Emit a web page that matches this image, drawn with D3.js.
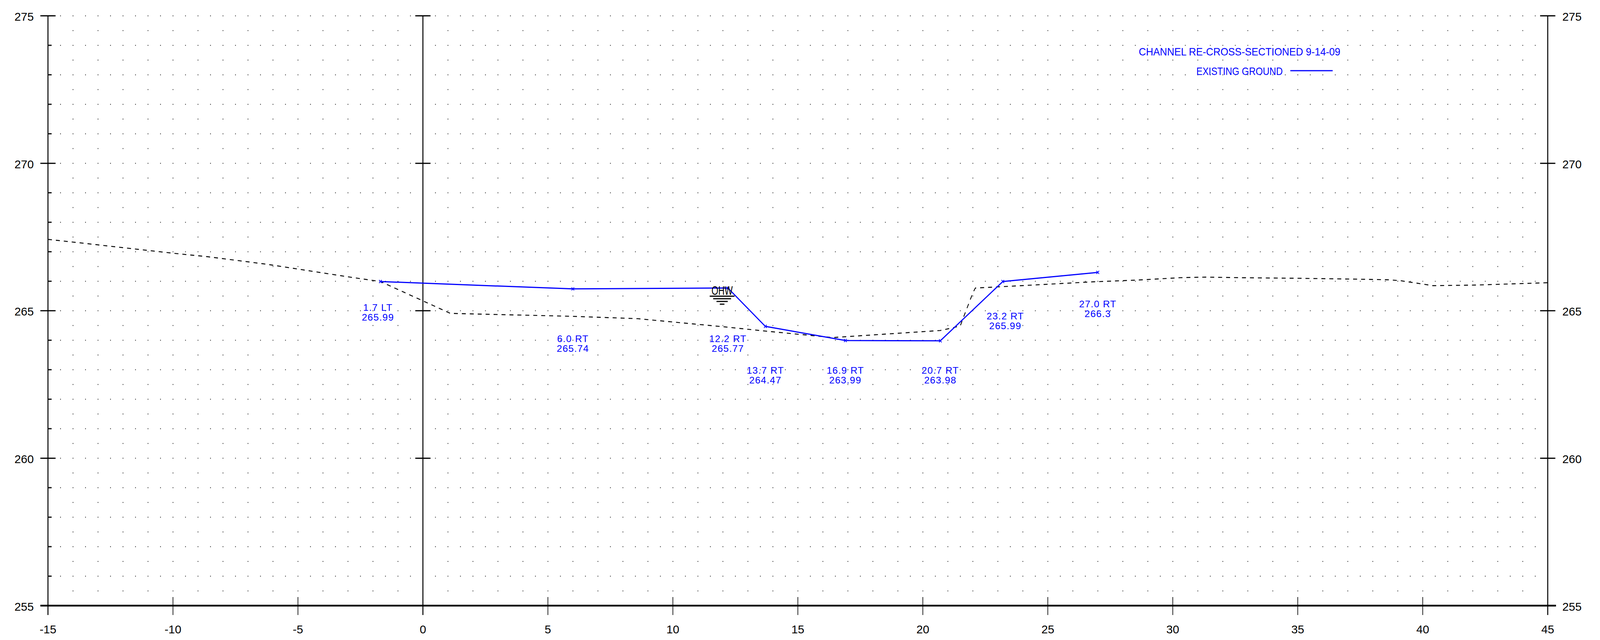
<!DOCTYPE html>
<html lang="en">
  <head>
    <meta charset="UTF-8" />
    <title>Channel Cross Section</title>
    <script src="https://cdn.jsdelivr.net/npm/d3@7"></script>
    <style>
      html, body { margin: 0; padding: 0; background: #fff; overflow: hidden; }
      svg { display: block; background: #fff; width: 100vw; height: 100vh; }
      text { font-family: "Liberation Sans", Arial, sans-serif; }
    </style>
  </head>
  <body>
    <script>
      // re-cross-section points (offset from CL, negative = LT)
      const stations = [-1.7, 6.0, 12.2, 13.7, 16.9, 20.7, 23.2, 27.0];
      const elevations = [265.99, 265.74, 265.77, 264.47, 263.99, 263.98, 265.99, 266.3];
      // where each station/elevation note sits (chart units)
      const labelStation = [-1.8, 6.0, 12.2, 13.7, 16.9, 20.7, 23.3, 27.0];
      const labelElev = [265.0, 263.94, 263.94, 262.86, 262.86, 262.86, 264.7, 265.11];

      // existing ground (dashed)
      const groundStation = [-15, -13.7, -11.8, -10, -8.6, -7.2, -6.2, -4.9, -3, -1.7, 1.1, 6.0, 8.6, 12.1,
        13.7, 16.4, 20.7, 21.2, 21.5, 21.6, 22.0, 22.1, 23.5, 26.8, 28.6, 30.3, 31.3, 32.7, 35.0, 37.4,
        38.6, 39.1, 39.8, 40.4, 42.1, 45];
      const groundElev = [267.42, 267.3, 267.12, 266.95, 266.83, 266.68, 266.57, 266.4, 266.15, 265.99,
        264.91, 264.81, 264.73, 264.45, 264.31, 264.09, 264.33, 264.42, 264.49, 264.72, 265.6, 265.77,
        265.83, 265.98, 266.04, 266.12, 266.14, 266.12, 266.1, 266.07, 266.05, 266.02, 265.93, 265.85,
        265.87, 265.95];

      const ohw = { station: 11.97, elev: 265.54 };
      const xTicks = d3.range(-15, 46, 5);
      const yTicks = [255, 260, 265, 270, 275];
      const legendTitle = "CHANNEL RE-CROSS-SECTIONED 9-14-09";
      const legendLine = "EXISTING GROUND";

      const width = 4836;
      const height = 1639;
      const blue = "#0000ff";

      // the drawing is stretched to the window; text is un-stretched so it keeps its shape
      const kx = window.innerWidth / width;
      const ky = window.innerHeight / height;
      const squash = kx / ky;
      const at = (px, py) => `translate(${px},${py}) scale(1,${squash})`;

      const x = d3.scaleLinear().domain([-15, 45]).range([145, 4678]);
      const y = d3.scaleLinear().domain([255, 275]).range([1551, 40.5]);

      const svg = d3.select("body").append("svg")
        .attr("viewBox", `0 0 ${width} ${height}`)
        .attr("preserveAspectRatio", "none");

      // dot grid
      const dots = [];
      d3.range(255.5, 275.01, 0.5).forEach(e => {
        const whole = Math.abs(e - Math.round(e)) < 1e-6;
        const step = whole ? 0.5 : 1;
        const start = whole ? -14.5 : -14;
        d3.range(start, 44.6, step).forEach(s => {
          if (Math.abs(s) > 1e-6) dots.push([s, e]);
        });
      });
      svg.append("g").selectAll("rect").data(dots).join("rect")
        .attr("x", d => x(d[0]) - 1)
        .attr("y", d => y(d[1]) - 1)
        .attr("width", 2.2)
        .attr("height", 2.2)
        .attr("fill", "#222");

      const axes = svg.append("g").attr("stroke", "#000").attr("fill", "none");

      // vertical lines: left, centerline, right
      [-15, 0, 45].forEach(s => {
        axes.append("line")
          .attr("x1", x(s)).attr("x2", x(s))
          .attr("y1", y(275)).attr("y2", y(255) + 24)
          .attr("stroke-width", 3);
      });

      // major ticks on the three verticals
      [-15, 0, 45].forEach(s => {
        yTicks.filter(v => v > 255).forEach(v => {
          axes.append("line")
            .attr("x1", x(s) - 23).attr("x2", x(s) + 23)
            .attr("y1", y(v)).attr("y2", y(v))
            .attr("stroke-width", 3);
        });
      });

      // minor ticks on the left axis
      d3.range(256, 275, 1).filter(v => v % 5 !== 0).forEach(v => {
        axes.append("line")
          .attr("x1", x(-15)).attr("x2", x(-15) + 11)
          .attr("y1", y(v)).attr("y2", y(v))
          .attr("stroke-width", 3);
      });

      // bottom base line + ticks
      axes.append("line")
        .attr("x1", x(-15) - 23).attr("x2", x(45) + 25)
        .attr("y1", y(255)).attr("y2", y(255))
        .attr("stroke-width", 4.5);
      xTicks.filter(s => s !== -15 && s !== 0 && s !== 45).forEach(s => {
        axes.append("line")
          .attr("x1", x(s)).attr("x2", x(s))
          .attr("y1", y(255) - 22).attr("y2", y(255) + 24)
          .attr("stroke-width", 2);
      });

      // axis labels
      const labels = svg.append("g").attr("fill", "#000").attr("font-size", 35);
      yTicks.forEach(v => {
        labels.append("text")
          .attr("transform", at(x(-15) - 43, y(v) + 12.5))
          .attr("text-anchor", "end").text(v);
        labels.append("text")
          .attr("transform", at(x(45) + 44, y(v) + 12.5))
          .attr("text-anchor", "start").text(v);
      });
      xTicks.forEach(s => {
        labels.append("text")
          .attr("transform", at(x(s), 1622))
          .attr("text-anchor", "middle").text(s);
      });

      // existing ground, dashed
      const gLine = d3.line().x(d => x(d[0])).y(d => y(d[1]));
      svg.append("path")
        .datum(groundStation.map((s, i) => [s, groundElev[i]]))
        .attr("d", gLine)
        .attr("fill", "none")
        .attr("stroke", "#000")
        .attr("stroke-width", 2.4)
        .attr("stroke-dasharray", "12,12");

      // re-cross-section, blue
      const pts = stations.map((s, i) => [s, elevations[i]]);
      svg.append("path")
        .datum(pts)
        .attr("d", gLine)
        .attr("fill", "none")
        .attr("stroke", blue)
        .attr("stroke-width", 3);

      svg.append("g").selectAll("path").data(pts).join("path")
        .attr("d", d => {
          const cx = x(d[0]), cy = y(d[1]);
          return `M${cx - 4},${cy - 4}L${cx + 4},${cy + 4}M${cx - 4},${cy + 4}L${cx + 4},${cy - 4}`;
        })
        .attr("stroke", blue)
        .attr("stroke-width", 2);

      // station / elevation notes
      const notes = svg.append("g")
        .attr("fill", blue)
        .attr("font-size", 29)
        .attr("letter-spacing", 1.5)
        .attr("text-anchor", "middle");
      stations.forEach((s, i) => {
        const lx = x(labelStation[i]);
        const ly = y(labelElev[i]);
        notes.append("text")
          .attr("transform", at(lx, ly))
          .text(Math.abs(s).toFixed(1) + " " + (s < 0 ? "LT" : "RT"));
        notes.append("text")
          .attr("transform", at(lx, ly + 25))
          .text(String(elevations[i]));
      });

      // OHW symbol
      const ox = x(ohw.station), oy = y(ohw.elev);
      svg.append("text")
        .attr("transform", at(ox, oy))
        .attr("text-anchor", "middle")
        .attr("font-size", 36)
        .attr("textLength", 64)
        .attr("lengthAdjust", "spacingAndGlyphs")
        .attr("fill", "#000")
        .text("OHW");
      [[75, 3.5], [54, 10], [34, 17], [14, 24]].forEach(([w, dy]) => {
        svg.append("line")
          .attr("x1", ox - w / 2).attr("x2", ox + w / 2)
          .attr("y1", oy + dy).attr("y2", oy + dy)
          .attr("stroke", "#000")
          .attr("stroke-width", 3);
      });

      // legend
      const legend = svg.append("g").attr("fill", blue).attr("font-size", 32);
      legend.append("text")
        .attr("transform", at(3442, 142))
        .attr("textLength", 609)
        .attr("lengthAdjust", "spacingAndGlyphs")
        .text(legendTitle);
      legend.append("text")
        .attr("transform", at(3616, 192))
        .attr("textLength", 261)
        .attr("lengthAdjust", "spacingAndGlyphs")
        .text(legendLine);
      legend.append("line")
        .attr("x1", 3900).attr("x2", 4028)
        .attr("y1", 181).attr("y2", 181)
        .attr("stroke", blue)
        .attr("stroke-width", 3);
    </script>
  </body>
</html>
